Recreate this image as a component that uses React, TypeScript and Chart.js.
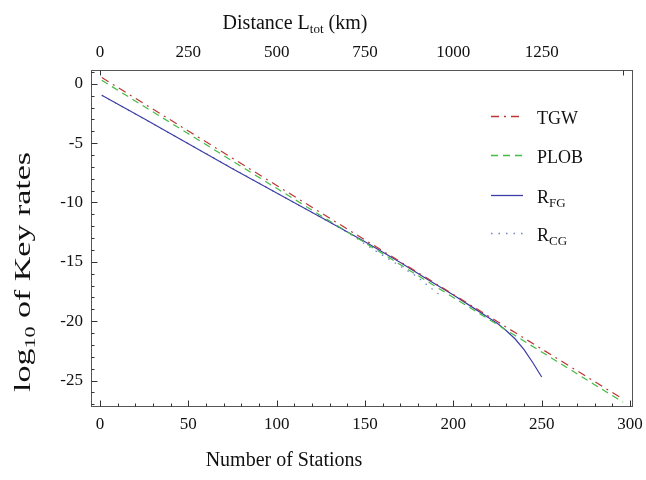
import React, { useEffect, useRef } from "react";
import { Chart, registerables } from "chart.js";
Chart.register(...registerables);

// ---- data ----
const tgwX = [1, 50, 100, 150, 200, 250, 296];
const tgwY = [0.52, -3.98, -8.57, -13.16, -17.75, -22.34, -26.56];
const plobX = [1, 50, 100, 150, 200, 250, 296];
const plobY = [0.29, -4.21, -8.81, -13.4, -18.0, -22.59, -26.82];
const rfgX = [1, 25, 50, 75, 100, 125, 150, 170, 185, 200, 210, 220, 225, 230, 235, 240, 245, 250];
const rfgY = [-0.97, -2.95, -5.05, -7.15, -9.2, -11.24, -13.3, -15.05, -16.45, -17.8, -18.75, -19.7, -20.2, -20.8, -21.5, -22.4, -23.5, -24.7];
const rcgX = [1, 50, 100, 140, 152, 161, 179, 186, 194];
const rcgY = [-0.97, -5.05, -9.2, -12.5, -13.7, -14.55, -16.2, -17.05, -18.0];

const stationTicks = [0, 50, 100, 150, 200, 250, 300];
const distanceTicks = [0, 250, 500, 750, 1000, 1250];
const distanceTickMarks = [0, 1480];
const rateTicks = [0, -5, -10, -15, -20, -25];
const kmPerStation = 5;
const xMin = -5.1;
const xMax = 301.5;
const yMin = -27.2;
const yMax = 1.1;

const legendMain = ["TGW", "PLOB", "R", "R"];
const legendSub = ["", "", "FG", "CG"];
const seriesColors = ["#bd3535", "#44bb44", "#3d3da6", "#6a80c8"];
const seriesDash = [[8, 5, 2, 5], [7, 5], [], [1.5, 6]];

const SERIF = "'Liberation Serif', 'Times New Roman', serif";

const toPts = (xs: number[], ys: number[]) => xs.map((x, i) => ({ x, y: ys[i] }));

const decor = {
  id: "decor",
  afterDraw(chart: any) {
    const ctx = chart.ctx as CanvasRenderingContext2D;
    const a = chart.chartArea;
    const xs = chart.scales.x;
    const ys = chart.scales.y;
    const xt = chart.scales.x2;
    ctx.save();
    // frame
    ctx.strokeStyle = "#555";
    ctx.lineWidth = 1;
    const L = Math.floor(a.left) + 0.5;
    const R = Math.floor(a.right) + 0.5;
    const T = Math.floor(a.top) + 0.5;
    const B = Math.floor(a.bottom) + 0.5;
    ctx.strokeRect(L, T, R - L, B - T);
    // bottom ticks
    ctx.strokeStyle = "#333";
    ctx.beginPath();
    for (let v = 0; v <= 300; v += 10) {
      const px = Math.round(xs.getPixelForValue(v)) + 0.5;
      const len = v % 50 === 0 ? 6 : 3;
      ctx.moveTo(px, B);
      ctx.lineTo(px, B - len);
    }
    // left ticks
    for (let v = -27; v <= 1; v += 1) {
      const py = Math.round(ys.getPixelForValue(v)) + 0.5;
      const len = v % 5 === 0 ? 6 : 3;
      ctx.moveTo(L, py);
      ctx.lineTo(L + len, py);
    }
    // top ticks
    for (const v of distanceTickMarks) {
      const px = Math.round(xt.getPixelForValue(v)) + 0.5;
      ctx.moveTo(px, T);
      ctx.lineTo(px, T + 5);
    }
    ctx.stroke();

    // titles
    ctx.fillStyle = "#111";
    ctx.textBaseline = "alphabetic";
    // bottom
    ctx.font = `20px ${SERIF}`;
    ctx.textAlign = "center";
    ctx.fillText("Number of Stations", 284, 466);
    // top: Distance L_tot (km)
    {
      ctx.textAlign = "left";
      const p1 = "Distance L";
      const p2 = "tot";
      const p3 = " (km)";
      ctx.font = `20px ${SERIF}`;
      const w1 = ctx.measureText(p1).width;
      const w3 = ctx.measureText(p3).width;
      ctx.font = `13px ${SERIF}`;
      const w2 = ctx.measureText(p2).width;
      const tot = w1 + w2 + w3;
      let x = 295 - tot / 2;
      const base = 29;
      ctx.font = `20px ${SERIF}`;
      ctx.fillText(p1, x, base);
      x += w1;
      ctx.font = `13px ${SERIF}`;
      ctx.fillText(p2, x, base + 4);
      x += w2;
      ctx.font = `20px ${SERIF}`;
      ctx.fillText(p3, x, base);
    }
    // y title: log_10 of Key rates
    {
      const p1 = "log";
      const p2 = "10";
      const p3 = " of Key rates";
      ctx.font = `23px ${SERIF}`;
      const w1 = ctx.measureText(p1).width;
      const w3 = ctx.measureText(p3).width;
      ctx.font = `15px ${SERIF}`;
      const w2 = ctx.measureText(p2).width;
      const tot = w1 + w2 + w3;
      const target = 240;
      const sx = target / tot;
      ctx.save();
      ctx.translate(30, 272);
      ctx.rotate(-Math.PI / 2);
      ctx.scale(sx, 1);
      ctx.textAlign = "left";
      let x = -tot / 2;
      ctx.font = `23px ${SERIF}`;
      ctx.fillText(p1, x, 0);
      x += w1;
      ctx.font = `15px ${SERIF}`;
      ctx.fillText(p2, x, 5);
      x += w2;
      ctx.font = `23px ${SERIF}`;
      ctx.fillText(p3, x, 0);
      ctx.restore();
    }
    // legend
    const baselines = [124, 163, 202.5, 241];
    for (let i = 0; i < 4; i++) {
      const b = baselines[i];
      const ly = Math.round(b - 8) + 0.5;
      ctx.strokeStyle = seriesColors[i];
      ctx.lineWidth = 1.3;
      ctx.setLineDash(seriesDash[i]);
      ctx.beginPath();
      ctx.moveTo(491, ly);
      ctx.lineTo(523, ly);
      ctx.stroke();
      ctx.setLineDash([]);
      ctx.fillStyle = "#111";
      ctx.textAlign = "left";
      ctx.font = `18px ${SERIF}`;
      ctx.fillText(legendMain[i], 537, b);
      if (legendSub[i]) {
        const w = ctx.measureText(legendMain[i]).width;
        ctx.font = `13px ${SERIF}`;
        ctx.fillText(legendSub[i], 537 + w, b + 4);
      }
    }
    ctx.restore();
  },
};

export default function App() {
  const ref = useRef<HTMLCanvasElement | null>(null);
  useEffect(() => {
    if (!ref.current) return;
    const tickFont = { family: SERIF, size: 17 };
    const mk = (label: string, xs: number[], ys: number[], i: number) => ({
      label,
      data: toPts(xs, ys),
      borderColor: seriesColors[i],
      backgroundColor: seriesColors[i],
      borderDash: seriesDash[i],
      borderWidth: 1.2,
      pointRadius: 0,
      fill: false,
      tension: 0,
      xAxisID: "x",
      yAxisID: "y",
    });
    const chart = new Chart(ref.current, {
      type: "line",
      data: {
        datasets: [
          mk("TGW", tgwX, tgwY, 0),
          mk("PLOB", plobX, plobY, 1),
          mk("R_FG", rfgX, rfgY, 2),
          mk("R_CG", rcgX, rcgY, 3),
        ],
      },
      options: {
        responsive: false,
        devicePixelRatio: 1,
        animation: false,
        events: [],
        layout: { padding: { left: 0, right: 13.3, top: 0, bottom: 0 } },
        plugins: { legend: { display: false }, tooltip: { enabled: false } },
        scales: {
          x: {
            type: "linear",
            axis: "x",
            position: "bottom",
            min: xMin,
            max: xMax,
            grid: { display: false, drawTicks: false },
            border: { display: false },
            ticks: { font: tickFont, color: "#111", padding: 8, maxRotation: 0, callback: (v: any) => String(v) },
            afterBuildTicks: (s: any) => {
              s.ticks = stationTicks.map((v) => ({ value: v }));
            },
            afterFit: (s: any) => {
              s.height = 73.3;
              s.paddingLeft = 0;
              s.paddingRight = 0;
            },
          },
          x2: {
            type: "linear",
            axis: "x",
            position: "top",
            min: xMin * kmPerStation,
            max: xMax * kmPerStation,
            grid: { display: false, drawTicks: false },
            border: { display: false },
            ticks: { font: tickFont, color: "#111", padding: 8, maxRotation: 0, callback: (v: any) => String(v) },
            afterBuildTicks: (s: any) => {
              s.ticks = distanceTicks.map((v) => ({ value: v }));
            },
            afterFit: (s: any) => {
              s.height = 70.7;
              s.paddingLeft = 0;
              s.paddingRight = 0;
            },
          },
          y: {
            type: "linear",
            position: "left",
            min: yMin,
            max: yMax,
            grid: { display: false, drawTicks: false },
            border: { display: false },
            ticks: { font: tickFont, color: "#111", padding: 8, callback: (v: any) => String(v) },
            afterBuildTicks: (s: any) => {
              s.ticks = rateTicks.map((v) => ({ value: v }));
            },
            afterFit: (s: any) => {
              s.width = 91;
              s.paddingTop = 0;
              s.paddingBottom = 0;
            },
          },
        },
      } as any,
      plugins: [decor],
    });
    return () => chart.destroy();
  }, []);
  return (
    <div style={{ position: "absolute", left: 0, top: 0, width: 646, height: 480, background: "#fff" }}>
      <canvas ref={ref} width={646} height={480} style={{ display: "block", width: 646, height: 480 }} />
    </div>
  );
}
